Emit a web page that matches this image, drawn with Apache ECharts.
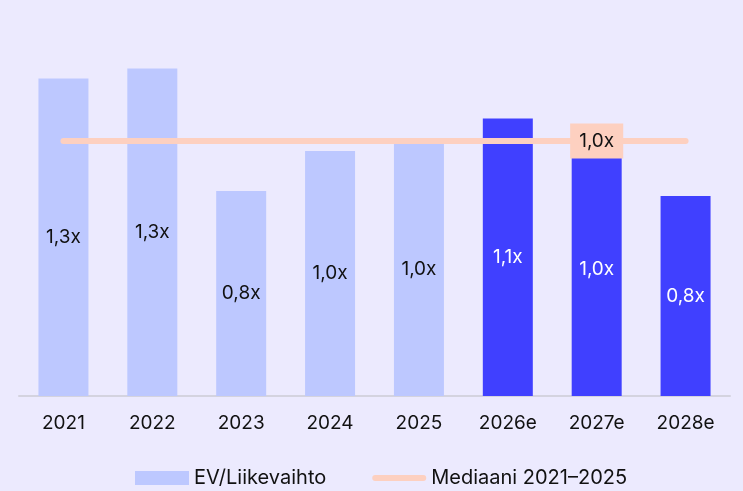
<!DOCTYPE html>
<html><head><meta charset="utf-8">
<script src="https://cdn.jsdelivr.net/npm/echarts@6/dist/echarts.min.js"></script>
<style>html,body{margin:0;padding:0;background:#ECEAFE;}#c{width:743px;height:491px;}</style>
</head><body><div id="c"></div>
<script>
const categories = ['2021','2022','2023','2024','2025','2026e','2027e','2028e'];
const evSales = [1.27, 1.31, 0.82, 0.98, 1.01, 1.11, 1.01, 0.80];
const valueLabels = ['1,3x','1,3x','0,8x','1,0x','1,0x','1,1x','1,0x','0,8x'];
const isEstimate = [false,false,false,false,false,true,true,true];
const median = 1.02;
const medianLabel = '1,0x';
const medianLabelIndex = 6;

const FONT = 'Inter, "Noto Sans", sans-serif';
const chart = echarts.init(document.getElementById('c'));
chart.setOption({
  backgroundColor: '#ECEAFE',
  textStyle: {fontFamily: FONT},
  grid: {left: 19, right: 13, top: 21, bottom: 95},
  xAxis: {
    type: 'category', data: categories,
    axisTick: {show: false},
    axisLine: {lineStyle: {color: '#D4D3DF', width: 2}},
    axisLabel: {color: '#111111', fontSize: 19, margin: 18, fontFamily: FONT}
  },
  yAxis: {type: 'value', min: 0, max: 1.5, show: false, splitLine: {show: false}},
  legend: {
    bottom: 0, left: 130, padding: [5, 5, 3, 5], itemGap: 46, itemWidth: 54, itemHeight: 14,
    textStyle: {color: '#111111', fontSize: 20, fontFamily: FONT},
    data: [
      {name: 'EV/Liikevaihto', icon: 'rect', itemStyle: {color: '#BDC8FF'}},
      {name: 'Mediaani 2021–2025', icon: 'path://M5,0 L85,0 A5,5 0 0 1 85,10 L5,10 A5,5 0 0 1 5,0 Z', itemStyle: {color: '#FDD0C0'}}
    ]
  },
  series: [
    {
      name: 'EV/Liikevaihto', type: 'bar', barWidth: 50,
      itemStyle: {color: '#BDC8FF'},
      data: evSales.map((v, i) => ({
        value: v,
        itemStyle: {color: isEstimate[i] ? '#4040FF' : '#BDC8FF'},
        label: {
          show: true, position: 'inside', formatter: valueLabels[i],
          color: isEstimate[i] ? '#FFFFFF' : '#111111', fontSize: 19, fontFamily: FONT
        }
      }))
    },
    {
      name: 'Mediaani 2021–2025', type: 'line', symbol: 'circle', symbolSize: 0, showSymbol: true, z: 5,
      lineStyle: {color: '#FDD0C0', width: 6, cap: 'round'},
      itemStyle: {color: '#FDD0C0'},
      emphasis: {disabled: true},
      data: categories.map((c, i) => i === medianLabelIndex ? {
        value: median,
        label: {show: true, position: 'inside', formatter: medianLabel,
          backgroundColor: '#FDD0C0', padding: [8, 9, 8, 9], color: '#111111', fontSize: 19, fontFamily: FONT}
      } : median)
    }
  ]
});
</script></body></html>
